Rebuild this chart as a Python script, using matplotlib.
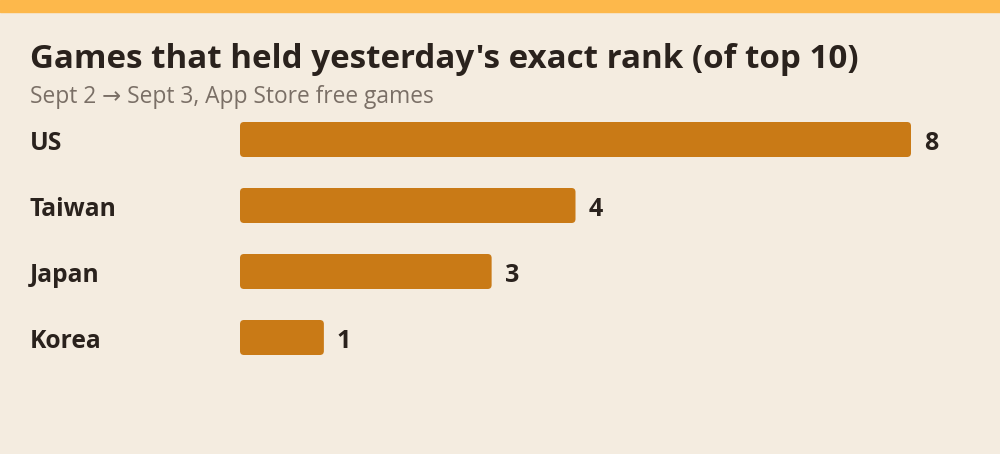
import matplotlib
matplotlib.use("Agg")
import matplotlib.pyplot as plt
from matplotlib.patches import FancyBboxPatch

plt.rcParams["font.family"] = ["Open Sans", "DejaVu Sans"]

countries = ["US", "Taiwan", "Japan", "Korea"]
held_rank = [8, 4, 3, 1]

bg = "#F4ECE0"
strip = "#FDB84B"
bar_color = "#C97A16"
text_color = "#2A221D"
sub_color = "#7A6F66"

W, H = 1000, 454
fig = plt.figure(figsize=(10, 4.54), dpi=100, facecolor=bg)
renderer = fig.canvas.get_renderer()


def fit_width(t, target_px):
    # scale the font so the text spans the same width as in the reference
    bb = t.get_window_extent(renderer=renderer)
    t.set_fontsize(t.get_fontsize() * target_px / bb.width)


# top accent strip
fig.patches.append(plt.Rectangle((0, 1 - 12 / H), 1, 12 / H, transform=fig.transFigure,
                                 color=strip, zorder=0))

title = fig.text(30 / W, 1 - 60 / H, "Games that held yesterday's exact rank (of top 10)",
                 fontsize=20, fontweight="bold", color=text_color, va="center", ha="left")
fit_width(title, 827)
sub = fig.text(30 / W, 1 - 97 / H, "Sept 2 \u2192 Sept 3, App Store free games",
               fontsize=12, color=sub_color, va="center", ha="left")
fit_width(sub, 401)

# axes: x from 240px, 8 units -> 671px ; y bars from 122 to 355px
ax = fig.add_axes([240 / W, 1 - 355 / H, 671 / W, 233 / H])
ax.set_facecolor("none")
bar_h = 35 / 66
ax.set_xlim(0, 8)
ax.set_ylim(len(countries) - 1 + bar_h / 2, -bar_h / 2)
ax.axis("off")

bars = ax.barh(range(len(countries)), held_rank, height=bar_h, color=bar_color)
px_x = 671 / 8
px_y = 66
r = 4
for b in bars:
    x, y = b.get_x(), b.get_y()
    w, h = b.get_width(), b.get_height()
    b.remove()
    ax.add_patch(FancyBboxPatch((x, y), w, h,
                                boxstyle=f"round,pad=0,rounding_size={r / px_x}",
                                mutation_aspect=px_x / px_y,
                                facecolor=bar_color, edgecolor="none"))

labels = []
for i, (name, v) in enumerate(zip(countries, held_rank)):
    ax.text(v + 13 / px_x, i + 0.055, str(v), fontsize=18, fontweight="bold",
            color=text_color, va="center", ha="left", clip_on=False)
    labels.append(fig.text(30 / W, 1 - (143 + i * 66) / H, name, fontsize=15,
                           fontweight="bold", color=text_color, va="center", ha="left"))
fit_width(labels[1], 87)
for t in labels:
    t.set_fontsize(labels[1].get_fontsize())

fig.savefig("out.png", dpi=100, facecolor=bg)
